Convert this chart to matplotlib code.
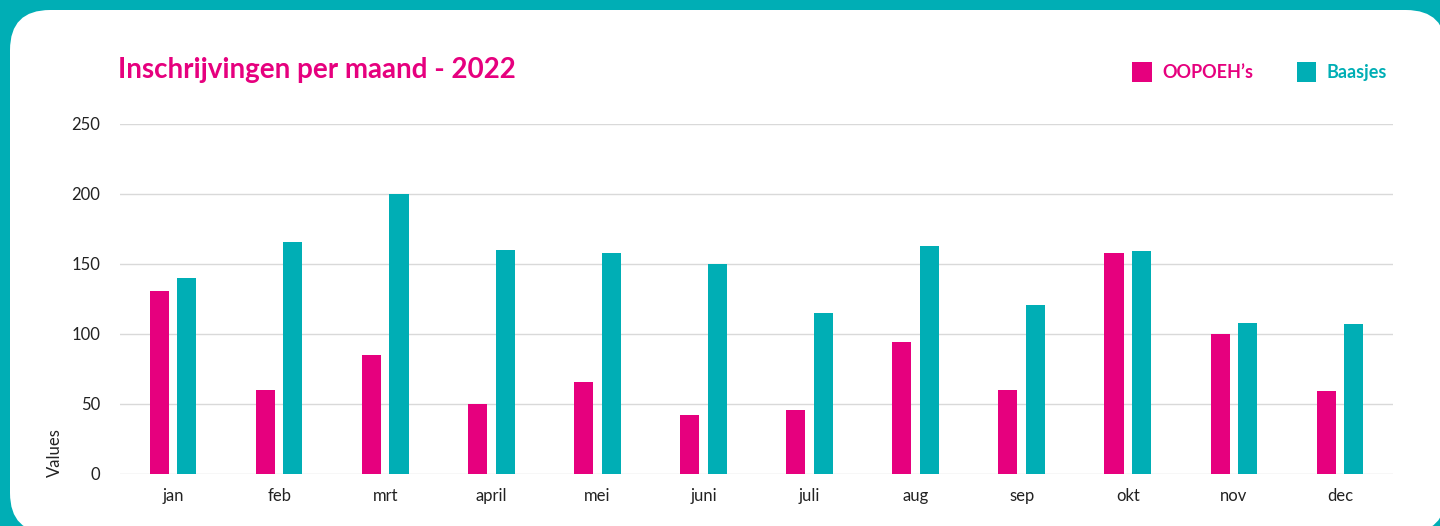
import numpy as np
import matplotlib.pyplot as plt
from matplotlib.patches import FancyBboxPatch
from matplotlib.transforms import IdentityTransform

months = ["jan", "feb", "mrt", "april", "mei", "juni", "juli", "aug", "sep", "okt", "nov", "dec"]
oopoehs = [131, 60, 85, 50, 66, 42, 46, 94, 60, 158, 100, 59]
baasjes = [140, 166, 200, 160, 158, 150, 115, 163, 121, 159, 108, 107]
yticks = [0, 50, 100, 150, 200, 250]

PINK = "#E6007E"
TEAL = "#00AEB5"

plt.rcParams['font.family'] = ['Lato', 'DejaVu Sans']

fig = plt.figure(figsize=(14.4, 5.26), dpi=100)
fig.patch.set_facecolor(TEAL)

# white rounded panel (pixel coords, origin bottom-left)
panel = FancyBboxPatch((10, -7), 1436, 523,
                       boxstyle="round,pad=0,rounding_size=40",
                       transform=IdentityTransform(), facecolor="white",
                       edgecolor="none", zorder=-5)
fig.patches.append(panel)

ax = fig.add_axes([120 / 1440, 1 - 474 / 526, (1393 - 120) / 1440, (474 - 124) / 526])
ax.set_facecolor("none")

x = np.arange(len(months))
w = 0.18
off = 0.13
b1 = ax.bar(x - off, oopoehs, width=w, color=PINK, label="OOPOEH’s", zorder=3)
b2 = ax.bar(x + off, baasjes, width=w, color=TEAL, label="Baasjes", zorder=3)

ax.set_xlim(-0.5, len(months) - 0.5)
ax.set_ylim(0, 250)
ax.set_yticks(yticks)
ax.set_xticks(x)
ax.set_xticklabels(months)
ax.tick_params(axis="both", length=0, labelsize=12, colors="#222222")
ax.tick_params(axis="y", pad=14)
ax.tick_params(axis="x", pad=10)
ax.grid(axis="y", color="#D9D9D9", linewidth=1, zorder=0)
for s in ax.spines.values():
    s.set_visible(False)

fig.text(55 / 1440, 1 - 453 / 526, "Values", rotation=90, ha="center", va="center",
         fontsize=12, color="#222222")

fig.text(118 / 1440, 1 - 70 / 526, "Inschrijvingen per maand - 2022", ha="left", va="center",
         fontsize=20, fontweight="bold", color=PINK)

leg = fig.legend(handles=[b1, b2], loc="center right", bbox_to_anchor=(1403 / 1440, 1 - 72 / 526),
                 ncol=2, frameon=False, handlelength=1.1, handleheight=1.3,
                 columnspacing=2.4, handletextpad=0.55, prop={"weight": "bold", "size": 13})
for t, c in zip(leg.get_texts(), [PINK, TEAL]):
    t.set_color(c)

fig.savefig("out.png", dpi=100, facecolor=fig.get_facecolor())
